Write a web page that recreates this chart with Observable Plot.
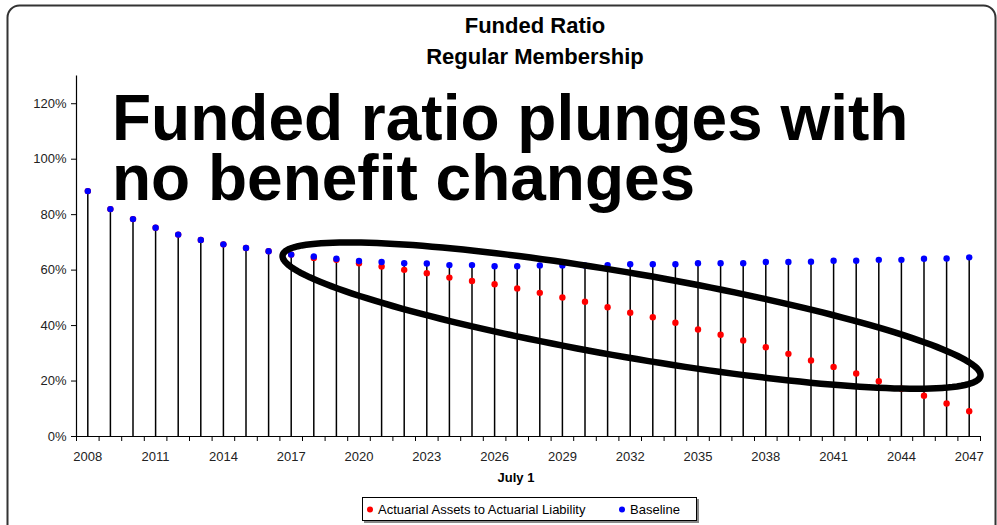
<!DOCTYPE html>
<html>
<head>
<meta charset="utf-8">
<script src="https://cdn.jsdelivr.net/npm/d3@7"></script>
<script src="https://cdn.jsdelivr.net/npm/@observablehq/plot@0.6"></script>
<style>
  body { margin: 0; background: #fff; }
  #wrap { position: relative; width: 997px; height: 525px; overflow: hidden; background: #fff; }
  svg { font-family: "Liberation Sans", Arial, sans-serif; }
</style>
</head>
<body>
<div id="wrap"></div>
<script>
// ---- data ----
const years = [2008,2009,2010,2011,2012,2013,2014,2015,2016,2017,
               2018,2019,2020,2021,2022,2023,2024,2025,2026,2027,
               2028,2029,2030,2031,2032,2033,2034,2035,2036,2037,
               2038,2039,2040,2041,2042,2043,2044,2045,2046,2047];
// Actuarial Assets to Actuarial Liability (red), %
const assets = [88.5,82.0,78.4,75.3,72.8,70.9,69.3,68.0,66.8,65.6,
                64.4,63.7,62.5,61.3,60.1,58.9,57.3,56.1,54.9,53.4,
                51.8,50.1,48.6,46.6,44.6,43.0,41.0,38.6,36.7,34.6,
                32.2,29.8,27.4,25.1,22.7,19.9,17.2,14.7,11.9,9.1];
// Baseline (blue), %
const baseline = [88.5,82.0,78.4,75.3,72.8,70.9,69.3,68.0,66.8,65.6,
                  64.9,64.1,63.3,62.9,62.5,62.4,61.8,61.8,61.4,61.4,
                  61.7,61.7,61.7,61.8,62.1,62.1,62.1,62.5,62.5,62.5,
                  62.9,62.9,63.0,63.4,63.4,63.7,63.7,64.1,64.2,64.6];
const yTicks = [0,20,40,60,80,100,120];
const xLabelYears = [2008,2011,2014,2017,2020,2023,2026,2029,2032,2035,2038,2041,2044,2047];
const seriesNames = ["Actuarial Assets to Actuarial Liability", "Baseline"];
const seriesColors = ["#ff0000", "#0000ff"];
const titleLines = ["Funded Ratio", "Regular Membership"];
const calloutLines = ["Funded ratio plunges with", "no benefit changes"];
const xAxisTitle = "July 1";

// annotation ellipse (hand-drawn highlight), given in data units
const ellipseCenter = {x: 2032.06, y: 43.6};
const ellipseU = {x: 15.44, y: -21.75};
const ellipseV = {x: -0.316, y: -14.93};

// ---- build tables ----
const data = years.map((yr, i) => ({
  year: yr, assets: assets[i], baseline: baseline[i],
  top: Math.max(assets[i], baseline[i])
}));
const boundaries = years.map(y => y - 0.5).concat([years[years.length - 1] + 0.5]);
const ellipse = d3.range(0, 181).map(k => {
  const t = (k / 180) * 2 * Math.PI;
  return {x: ellipseCenter.x + ellipseU.x * Math.cos(t) + ellipseV.x * Math.sin(t),
          y: ellipseCenter.y + ellipseU.y * Math.cos(t) + ellipseV.y * Math.sin(t)};
});

const font = '"Liberation Sans", Arial, sans-serif';

const chart = Plot.plot({
  width: 997,
  height: 525,
  marginLeft: 76,
  marginRight: 17,
  marginTop: 75.5,
  marginBottom: 89,
  style: {fontFamily: font, fontSize: "13px", background: "transparent", color: "#000"},
  x: {domain: [boundaries[0], boundaries[boundaries.length - 1]]},
  y: {domain: [0, 130]},
  marks: [
    Plot.ruleX(data, {x: "year", y1: 0, y2: "top", stroke: "#000", strokeWidth: 1.5}),
    Plot.dot(data, {x: "year", y: "assets", r: 3.2, fill: seriesColors[0], stroke: "none"}),
    Plot.dot(data, {x: "year", y: "baseline", r: 3.2, fill: seriesColors[1], stroke: "none"}),
    Plot.line(ellipse, {x: "x", y: "y", stroke: "#000", strokeWidth: 6.5, strokeLinejoin: "round"}),
    Plot.ruleX([boundaries[0]], {stroke: "#000", strokeWidth: 1.2}),
    Plot.ruleY([0], {stroke: "#000", strokeWidth: 1.2}),
    Plot.axisY({ticks: yTicks, tickFormat: d => d + "%", tickSize: 5, tickPadding: 5,
                label: null, fontSize: 13, fill: "#222", stroke: "#000"}),
    Plot.axisX({ticks: boundaries, tickFormat: () => "", tickSize: 5, label: null, stroke: "#000"}),
    Plot.axisX({ticks: xLabelYears, tickFormat: d => String(d), tickSize: 0, tickPadding: 15,
                label: null, fontSize: 13, fill: "#222"})
  ]
});

document.getElementById("wrap").appendChild(chart);

// ---- non-data decorations ----
const svg = d3.select(chart);

// outer rounded frame
svg.insert("rect", ":first-child")
  .attr("x", 7.5).attr("y", 5.5).attr("width", 988).attr("height", 535)
  .attr("rx", 12).attr("fill", "none").attr("stroke", "#333").attr("stroke-width", 2);

function addText(x, y, str, size, weight, anchor) {
  return svg.append("text").attr("x", x).attr("y", y)
    .attr("text-anchor", anchor).attr("font-size", size).attr("font-weight", weight)
    .attr("font-family", font).attr("fill", "#000").text(str);
}

// titles
addText(535, 33, titleLines[0], 22, "bold", "middle");
addText(535, 63.5, titleLines[1], 22, "bold", "middle");

// big callout text
addText(112, 140, calloutLines[0], 64, "bold", "start");
addText(112, 200, calloutLines[1], 64, "bold", "start");

// x axis title
addText(516, 482, xAxisTitle, 13, "bold", "middle");

// legend
svg.append("rect").attr("x", 364).attr("y", 499).attr("width", 335).attr("height", 24).attr("fill", "#888");
svg.append("rect").attr("x", 362.5).attr("y", 497.5).attr("width", 334).attr("height", 23)
  .attr("fill", "#fff").attr("stroke", "#000").attr("stroke-width", 1);
svg.append("circle").attr("cx", 370).attr("cy", 509.5).attr("r", 3).attr("fill", seriesColors[0]);
addText(378, 514, seriesNames[0], 13, "normal", "start");
svg.append("circle").attr("cx", 622).attr("cy", 509.5).attr("r", 3).attr("fill", seriesColors[1]);
addText(630, 514, seriesNames[1], 13, "normal", "start");
</script>
</body>
</html>
